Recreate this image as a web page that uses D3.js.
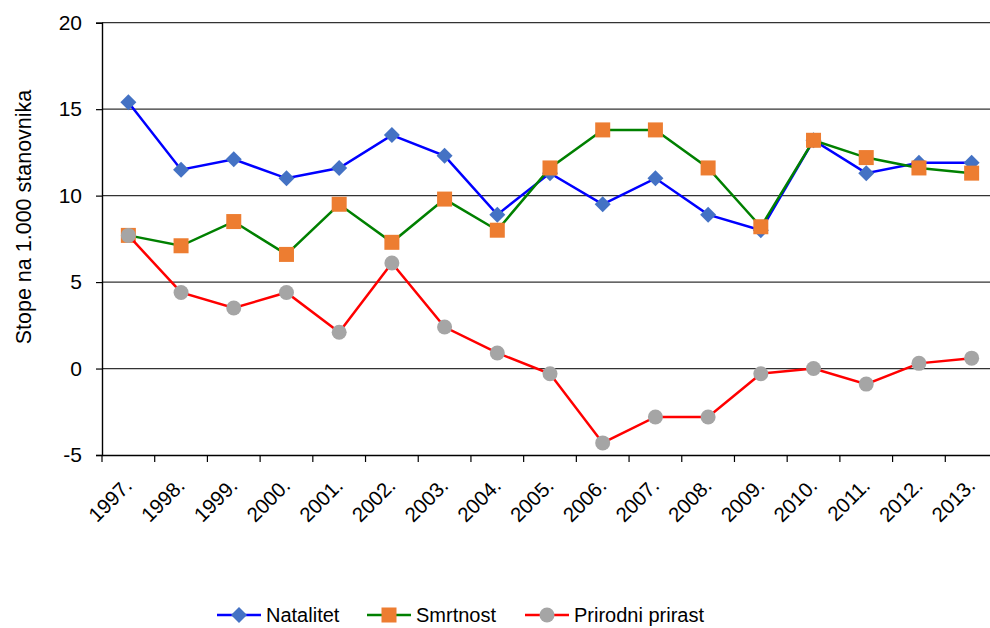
<!DOCTYPE html>
<html>
<head>
<meta charset="utf-8">
<script src="https://cdn.jsdelivr.net/npm/d3@7"></script>
<style>
  body { margin: 0; background: #fff; }
  text { font-family: "Liberation Sans", Arial, sans-serif; fill: #000; }
</style>
</head>
<body>
<div id="viz"></div>
<script>
const years = ["1997.", "1998.", "1999.", "2000.", "2001.", "2002.", "2003.", "2004.", "2005.",
    "2006.", "2007.", "2008.", "2009.", "2010.", "2011.", "2012.", "2013."];
const natalitet = [15.4, 11.5, 12.1, 11.0, 11.6, 13.5, 12.3, 8.9, 11.3, 9.5, 11.0, 8.9, 8.0, 13.2, 11.3, 11.9, 11.9];
const smrtnost = [7.7, 7.1, 8.5, 6.6, 9.5, 7.3, 9.8, 8.0, 11.6, 13.8, 13.8, 11.6, 8.2, 13.2, 12.2, 11.6, 11.3];
const prirodniPrirast = [7.7, 4.4, 3.5, 4.4, 2.1, 6.1, 2.4, 0.9, -0.3, -4.3, -2.8, -2.8, -0.3, 0.0, -0.9, 0.3, 0.6];
const yTicks = [-5, 0, 5, 10, 15, 20];

const series = [
    { name: "Natalitet", values: natalitet, line: "#0000ff", fill: "#4472c4", shape: "diamond" },
    { name: "Smrtnost", values: smrtnost, line: "#008000", fill: "#ed7d31", shape: "square" },
    { name: "Prirodni prirast", values: prirodniPrirast, line: "#ff0000", fill: "#a5a5a5", shape: "circle" }
];

const width = 990;
const height = 628;
const margin = { left: 102, right: -8, top: 22.7, bottom: 173 };

const svg = d3.select("#viz").append("svg")
    .attr("width", width)
    .attr("height", height);

const xScale = d3.scaleBand()
    .domain(years)
    .range([margin.left, width - margin.right]);

const yScale = d3.scaleLinear()
    .domain([-5, 20])
    .range([height - margin.bottom, margin.top]);

// gridlines
svg.append("g")
    .selectAll("line")
    .data(yTicks.filter(d => d > -5))
    .join("line")
        .attr("x1", margin.left)
        .attr("x2", width)
        .attr("y1", d => yScale(d))
        .attr("y2", d => yScale(d))
        .attr("stroke", "#333")
        .attr("stroke-width", 1.3);

// y axis
const yAxis = svg.append("g")
    .attr("transform", `translate(${margin.left},0)`)
    .call(d3.axisLeft(yScale).tickValues(yTicks).tickSize(6).tickPadding(14).tickFormat(d => String(d)));
yAxis.select(".domain").attr("stroke", "#000").attr("stroke-width", 1.4);
yAxis.selectAll(".tick line").attr("stroke", "#000").attr("stroke-width", 1.2);
yAxis.selectAll(".tick text")
    .style("font-size", "21px")
    .style("font-family", "'Liberation Sans', Arial, sans-serif")
    .attr("fill", "#000");

// x axis
const xAxis = svg.append("g")
    .attr("transform", `translate(0,${yScale(-5)})`)
    .call(d3.axisBottom(xScale).tickSize(0).tickSizeOuter(0));
xAxis.select(".domain").attr("stroke", "#000").attr("stroke-width", 1.4);
xAxis.selectAll(".tick text").remove();

svg.append("g")
    .selectAll("line")
    .data(years)
    .join("line")
        .attr("x1", d => xScale(d))
        .attr("x2", d => xScale(d))
        .attr("y1", yScale(-5))
        .attr("y2", yScale(-5) + 7)
        .attr("stroke", "#000")
        .attr("stroke-width", 1.2);

svg.append("g")
    .selectAll("text")
    .data(years)
    .join("text")
        .attr("text-anchor", "end")
        .style("font-size", "20.5px")
        .attr("transform", d => `translate(${xScale(d) + xScale.bandwidth() / 2 + 5},${yScale(-5) + 32}) rotate(-45)`)
        .text(d => d);

// y axis title
svg.append("text")
    .attr("text-anchor", "middle")
    .style("font-size", "21.5px")
    .attr("transform", `translate(31,217) rotate(-90)`)
    .text("Stope na 1.000 stanovnika");

function drawMarker(sel, shape, fill) {
    if (shape === "diamond") {
        sel.append("path")
            .attr("d", "M0,-8L8,0L0,8L-8,0Z")
            .attr("fill", fill);
    } else if (shape === "square") {
        sel.append("rect")
            .attr("x", -7.5).attr("y", -7.5)
            .attr("width", 15).attr("height", 15)
            .attr("fill", fill);
    } else {
        sel.append("circle")
            .attr("r", 7.5)
            .attr("fill", fill);
    }
}

const line = d3.line()
    .x((d, i) => xScale(years[i]) + xScale.bandwidth() / 2)
    .y(d => yScale(d));

const gSeries = svg.selectAll(".series")
    .data(series)
    .join("g")
        .attr("class", "series");

gSeries.append("path")
    .attr("d", d => line(d.values))
    .attr("fill", "none")
    .attr("stroke", d => d.line)
    .attr("stroke-width", 2.5);

gSeries.each(function(s) {
    d3.select(this).selectAll(".marker")
        .data(s.values)
        .join("g")
            .attr("class", "marker")
            .attr("transform", (d, i) => `translate(${xScale(years[i]) + xScale.bandwidth() / 2},${yScale(d)})`)
            .each(function() { drawMarker(d3.select(this), s.shape, s.fill); });
});

// legend
const legendX = [217, 367, 525];
const legendY = 615;
const gLegend = svg.selectAll(".legend")
    .data(series)
    .join("g")
        .attr("class", "legend")
        .attr("transform", (d, i) => `translate(${legendX[i]},${legendY})`);

gLegend.append("line")
    .attr("x1", 0).attr("x2", 44)
    .attr("stroke", d => d.line)
    .attr("stroke-width", 2.5);

gLegend.each(function(s) {
    const m = d3.select(this).append("g").attr("transform", "translate(22,0)");
    drawMarker(m, s.shape, s.fill);
});

gLegend.append("text")
    .attr("x", 49)
    .attr("dy", "0.35em")
    .style("font-size", "20px")
    .text(d => d.name);
</script>
</body>
</html>
